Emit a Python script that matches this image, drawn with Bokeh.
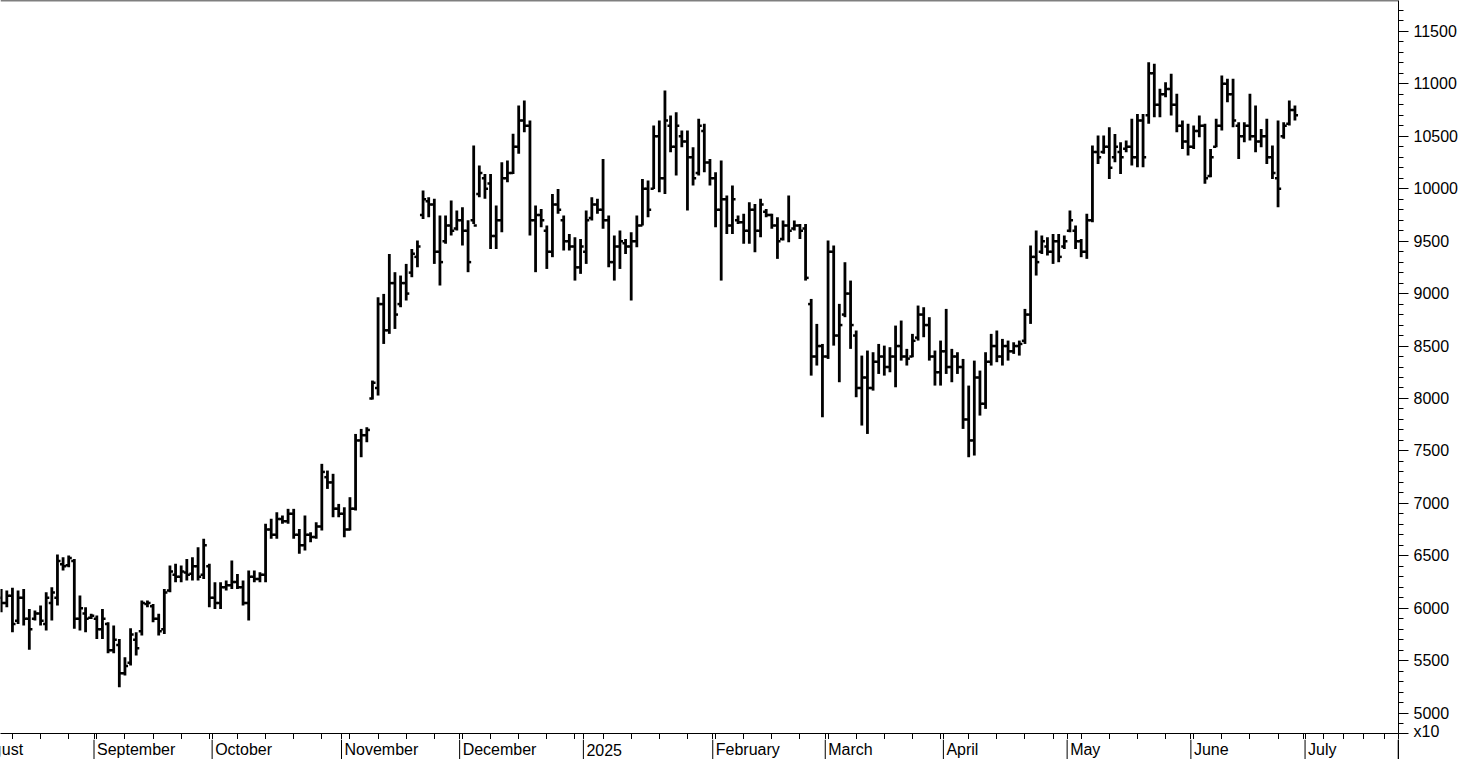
import numpy as np
import pandas as pd
from bokeh.plotting import figure
from bokeh.layouts import column
from bokeh.models import ColumnDataSource, FixedTicker, Range1d, Span
from bokeh.core.properties import value
from bokeh.embed import file_html
from bokeh.resources import INLINE

first_day = "2024-08-08"

high = [6185,6169,6195,6169,6185,5994,5979,6026,6153,6201,
        6512,6487,6503,6471,6122,6010,5947,5931,5994,5867,
        5836,5708,5534,5810,5772,6074,6074,6042,5947,6185,
        6408,6424,6408,6471,6487,6582,6662,6424,6249,6249,
        6265,6455,6328,6265,6360,6360,6344,6805,6853,6916,
        6884,6948,6948,6757,6884,6725,6821,7377,7313,7282,
        6995,6963,7059,7662,7710,7726,8171,8965,8997,9378,
        9204,9172,9283,9426,9506,9982,9919,9903,9744,9744,
        9887,9792,9823,9700,10411,10221,10141,10141,9839,10252,
        10268,10523,10793,10840,10650,9839,9807,9649,9950,9998,
        9744,9569,9537,9521,9792,9919,9903,10284,9744,9553,
        9601,9521,9585,9744,10093,10078,10602,10650,10936,10697,
        10729,10554,10554,10395,10666,10618,10284,10157,10268,9935,
        10030,9744,9760,9871,9855,9903,9807,9760,9728,9696,
        9935,9696,9664,9664,8949,8711,8520,9506,9458,8902,
        9299,9124,8648,8409,8457,8441,8520,8504,8489,8695,
        8743,8473,8616,8886,8870,8775,8457,8552,8854,8473,
        8441,8377,8123,8361,8266,8441,8616,8648,8568,8552,
        8536,8552,8854,9458,9601,9553,9537,9569,9569,9553,
        9792,9649,9521,9760,10411,10507,10507,10586,10522,10443,
        10459,10666,10713,10713,11206,11190,10952,11015,11095,10904,
        10650,10618,10602,10697,10618,10379,10666,11079,11047,11047,
        10634,10634,10904,10793,10570,10666,10411,10650,10634,10840,
        10793]

low = [5963,6010,5772,5851,5836,5604,5883,5836,5788,5883,
       6026,6360,6392,5804,5788,5772,5899,5708,5708,5572,
       5572,5248,5359,5454,5550,5740,6010,5867,5740,5756,
       6153,6249,6249,6265,6265,6265,6280,6010,5994,5994,
       6169,6185,6185,6026,5883,6249,6249,6249,6662,6662,
       6805,6805,6662,6519,6550,6630,6662,6741,7138,6868,
       6868,6677,6741,6931,7440,7583,7990,8028,8520,8616,
       8663,8870,8934,9156,9251,9712,9728,9283,9077,9474,
       9553,9601,9458,9204,9664,9919,9903,9426,9426,9585,
       10062,10141,10332,10538,9553,9204,9633,9235,9347,9760,
       9410,9410,9124,9188,9283,9696,9760,9617,9251,9124,
       9235,9378,8934,9442,9649,9728,9998,9966,9950,10348,
       10125,10395,9792,10030,10125,10157,10030,9633,9124,9569,
       9569,9664,9474,9474,9394,9537,9728,9617,9331,9506,
       9490,9601,9521,9124,8218,8314,7821,8377,8504,8155,
       8775,8473,8012,7742,7662,8075,8234,8218,8250,8107,
       8361,8314,8393,8552,8584,8361,8123,8123,8234,8155,
       8234,7710,7440,7456,7837,7901,8314,8346,8314,8361,
       8425,8409,8520,8711,9172,9378,9363,9283,9299,9426,
       9585,9426,9347,9331,9680,10236,10332,10093,10252,10141,
       10348,10221,10205,10205,10618,10681,10681,10872,10697,10538,
       10379,10316,10379,10491,10046,10109,10395,10554,10824,10586,
       10284,10443,10459,10348,10395,10236,10093,9823,10475,10602,
       10650]

open_ = [6100,6050,6120,5880,6100,5900,5900,5950,5850,6050,
         6100,6420,6410,6450,5900,5950,5910,5900,5800,5850,
         5600,5650,5380,5480,5700,5780,6040,6020,5900,5800,
         6170,6320,6300,6340,6330,6400,6320,6400,6100,6050,
         6200,6220,6250,6200,6050,6300,6280,6320,6750,6700,
         6850,6830,6900,6700,6600,6700,6680,6780,7250,7200,
         6950,6900,6750,6950,7600,7650,8000,8100,8900,8650,
         9100,8900,9100,9200,9350,9750,9880,9850,9400,9500,
         9650,9620,9700,9600,9700,9950,10100,10050,9550,9700,
         10100,10150,10400,10650,10600,9700,9750,9600,9400,9850,
         9700,9500,9450,9250,9400,9720,9850,9800,9700,9300,
         9450,9480,9450,9500,9650,10000,10000,10500,10100,10600,
         10400,10500,10450,10300,10150,10550,10250,10100,9800,9900,
         9650,9700,9680,9600,9800,9600,9780,9750,9650,9520,
         9650,9620,9650,9620,8900,8400,8500,8400,9400,8600,
         8800,9000,8600,8100,8200,8100,8350,8400,8300,8400,
         8500,8400,8400,8580,8800,8700,8400,8250,8450,8300,
         8400,8300,7800,7600,8200,7950,8350,8500,8400,8500,
         8450,8500,8550,8800,9350,9400,9450,9400,9500,9450,
         9600,9600,9500,9400,9700,10350,10350,10400,10300,10350,
         10380,10400,10300,10650,10700,11100,10800,10900,10950,10800,
         10600,10450,10400,10550,10600,10120,10400,10600,11000,10900,
         10600,10500,10600,10500,10450,10500,10300,10100,10500,10620,
         10750]

close = [6050,6120,5850,6100,5900,5800,5950,5880,6100,6150,
         6450,6400,6480,5900,6000,5900,5930,5800,5900,5600,
         5700,5380,5450,5750,5620,6050,6050,5900,5780,6150,
         6350,6300,6350,6320,6400,6300,6600,6100,6050,6200,
         6220,6250,6200,6050,6300,6280,6320,6750,6700,6850,
         6830,6900,6700,6600,6700,6680,6780,7300,7200,6950,
         6900,6750,6950,7600,7650,7700,8150,8900,8650,9100,
         8800,9100,9000,9380,9450,9900,9850,9400,9300,9650,
         9600,9700,9600,9300,9650,10150,10000,9550,9700,10100,
         10150,10400,10650,10600,9700,9750,9700,9400,9850,9800,
         9500,9450,9250,9450,9700,9850,9800,9700,9300,9450,
         9500,9450,9500,9650,10000,9800,10500,10100,10650,10400,
         10600,10450,10300,10100,10600,10250,10100,9800,9900,9650,
         9900,9680,9600,9800,9600,9850,9750,9650,9500,9650,
         9600,9650,9600,9150,8400,8500,8400,9400,8600,8700,
         9000,8700,8100,8200,8100,8350,8400,8300,8400,8500,
         8400,8380,8550,8800,8700,8400,8250,8450,8300,8400,
         8300,7800,7600,8200,7950,8350,8500,8400,8500,8450,
         8500,8520,8800,9350,9300,9500,9400,9500,9350,9500,
         9700,9500,9400,9700,10350,10300,10400,10200,10400,10300,
         10400,10300,10650,10300,11100,10800,10900,10950,10800,10600,
         10450,10400,10550,10600,10100,10300,10600,11000,10900,10650,
         10500,10600,10500,10450,10500,10300,10150,10000,10600,10750,
         10700]

month_labels = ["August", "September", "October", "November", "December", "2025",
                "February", "March", "April", "May", "June", "July", "August"]
y_major = list(range(5000, 11501, 500))
y_minor = list(range(4900, 11701, 100))
scale_note = "x10"
scale_note_at = 4810

# ---------------------------------------------------------------- layout
FUTURE_SCALE = 0.72      # empty future days are drawn narrower
TICK_HALF = 0.55         # open/close nub length in bar slots
W = 1460
FRAME_W = 1400
RIGHT_B = W - FRAME_W
FRAME_H = 733
BOT_B = 6
H1 = FRAME_H + BOT_B
H2 = 759 - H1
PX_PER_SLOT = 5.633
X_LO = -0.124
X_HI = X_LO + FRAME_W / PX_PER_SLOT
Y_HI = 11794
Y_LO = Y_HI - FRAME_H * 9.533
FONT = "Liberation Sans"

n = len(high)
dates = pd.bdate_range(first_day, periods=n)
xs = np.arange(n, dtype=float)

src = ColumnDataSource(dict(
    x=xs, xl=xs - TICK_HALF, xr=xs + TICK_HALF,
    o=open_, h=high, l=low, c=close, date=dates))

cal = pd.bdate_range("2024-08-01", "2025-08-29")
k0 = int(np.where(cal == dates[0])[0][0])
kk = np.arange(len(cal)) - k0


def xpos(k):
    last = n - 1
    return float(k) if k <= last else last + (k - last) * FUTURE_SCALE


month_ticks, monday_ticks = [], []
for j, d in enumerate(cal):
    if j == 0 or d.month != cal[j - 1].month:
        month_ticks.append(xpos(kk[j] - 0.5))
    if d.dayofweek == 0:
        monday_ticks.append(xpos(kk[j]))

xr = Range1d(X_LO, X_HI)

# ---------------------------------------------------------------- main chart
p = figure(width=W, height=H1,
           x_range=xr, y_range=Range1d(Y_LO, Y_HI),
           output_backend="svg", toolbar_location=None,
           y_axis_location="right",
           min_border_left=0, min_border_top=0,
           min_border_right=RIGHT_B, min_border_bottom=BOT_B)
p.outline_line_color = None
p.xgrid.visible = False
p.ygrid.visible = False
p.background_fill_color = "white"
p.border_fill_color = "white"

p.segment(x0="x", y0="l", x1="x", y1="h", source=src, line_color="black", line_width=2.8)
p.segment(x0="xl", y0="o", x1="x", y1="o", source=src, line_color="black", line_width=2.5)
p.segment(x0="x", y0="c", x1="xr", y1="c", source=src, line_color="black", line_width=2.5)

p.add_layout(Span(location=Y_HI, dimension="width", line_color="black", line_width=1.5))

ya = p.yaxis[0]
ya.ticker = FixedTicker(ticks=y_major + [scale_note_at], minor_ticks=y_minor)
ya.major_label_overrides = {scale_note_at: scale_note}
ya.major_tick_out = 10
ya.major_tick_in = 0
ya.minor_tick_out = 5
ya.minor_tick_in = 0
ya.major_label_standoff = 5
ya.major_label_text_font = FONT
ya.major_label_text_font_size = "16px"
ya.major_label_text_color = "black"
ya.axis_line_color = "black"
ya.major_tick_line_color = "black"
ya.minor_tick_line_color = "black"

xa = p.xaxis[0]
xa.ticker = FixedTicker(ticks=month_ticks, minor_ticks=monday_ticks)
xa.major_tick_out = BOT_B
xa.major_tick_in = 0
xa.minor_tick_out = 6
xa.minor_tick_in = 0
xa.major_label_text_font_size = "0px"
xa.major_label_standoff = 0
xa.major_label_overrides = {t: "" for t in month_ticks}
xa.axis_line_color = "black"
xa.major_tick_line_color = "black"
xa.minor_tick_line_color = "black"

# ---------------------------------------------------------------- month-label strip
s = figure(width=W, height=H2, x_range=xr, y_range=Range1d(0, 1),
           output_backend="svg", toolbar_location=None,
           x_axis_location=None, y_axis_location="right",
           min_border_left=0, min_border_right=RIGHT_B,
           min_border_top=0, min_border_bottom=0)
s.outline_line_color = None
s.xgrid.visible = False
s.ygrid.visible = False
s.background_fill_color = "white"
s.border_fill_color = "white"
sy = s.yaxis[0]
sy.ticker = FixedTicker(ticks=[])
sy.major_tick_out = 0
sy.minor_tick_out = 0
sy.major_label_text_font_size = "0px"
sy.axis_line_color = "black"

vis_ticks = [t for t in month_ticks if t < X_HI]
lab_x = [t for t in month_ticks if t < X_HI - 3]
vis_labels = [m for t, m in zip(month_ticks, month_labels) if t < X_HI - 3]
s.segment(x0=vis_ticks, y0=[0] * len(vis_ticks), x1=vis_ticks, y1=[1] * len(vis_ticks),
          line_color="black", line_width=1)
s.text(x=lab_x, y=[0.5] * len(lab_x), text=vis_labels, x_offset=3,
       text_align="left", text_baseline="middle",
       text_font=value(FONT), text_font_size="16px", text_color="black")

layout = column(p, s, spacing=0)
open("out.html", "w").write(file_html(layout, INLINE))
